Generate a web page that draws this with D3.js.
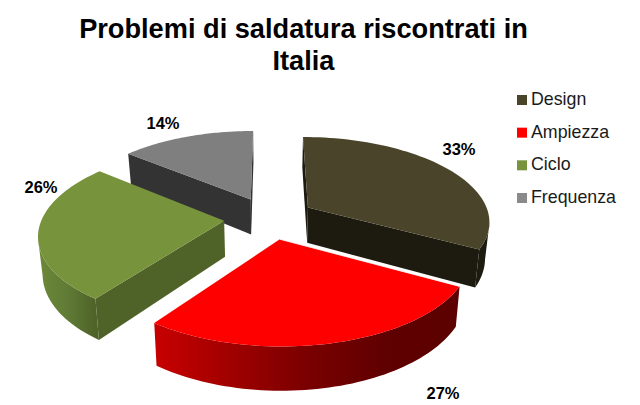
<!DOCTYPE html>
<html><head><meta charset="utf-8">
<script src="https://cdn.jsdelivr.net/npm/d3@7/dist/d3.min.js"></script>
<style>html,body{margin:0;padding:0;background:#fff}svg{display:block}text{font-family:"Liberation Sans",Arial,sans-serif}</style>
</head><body><svg id="c" width="640" height="405"></svg>
<script>
const categories = ["Design","Ampiezza","Ciclo","Frequenza"];
const values = [33,27,26,14];
const titleLines = ["Problemi di saldatura riscontrati in","Italia"];

// styling, kept apart from the data
const topColors = ["#4a452a","#ff0000","#77933c","#7f7f7f"];
const sideColors = ["#1d1b10","#800000","#4f6228","#333333"];
const wallStops = [["#1d1b10","#1d1b10"],["#c80000","#a00000","#7a0000","#600000","#5c0000"],["#6c8838","#607c36","#4f6228"],["#333333","#333333"]];
const legendColors = ["#4a452a","#ff0000","#77933c","#8a8a8a"];
const labelAnchors = [[459,155],[443,399],[41,193],[163,129]];

const svg = d3.select("#c");
const defs = svg.append("defs");
const x = d3.scaleLinear().domain([-1,1]).range([269.5-182,269.5+182]);
const y = d3.scaleLinear().domain([-1,1]).range([218+84,218-84]);
const persp = 0.15, explode = 0.25, drop = 36, taper = 0.98, minWall = 200;
const pie = d3.pie().sort(null).value(d=>d).startAngle(0).endAngle(2*Math.PI);
const arcs = pie(values);

function project(u,v,down){
  const s = 1/(1+persp*v);
  const t = down ? taper : 1;
  return [x(0)+(x(u)-x(0))*s*t, y(0)+(y(v)-y(0))*s+(down?drop*s:0)];
}
const line = d3.line();
arcs.forEach((d,i)=>{
  const mid=(d.startAngle+d.endAngle)/2;
  d.ou=explode*Math.sin(mid); d.ov=explode*Math.cos(mid); d.i=i;
  d.at=(a,r,down)=>project(d.ou+r*Math.sin(a),d.ov+r*Math.cos(a),down);
  d.angles=d3.range(0,61).map(k=>d.startAngle+(d.endAngle-d.startAngle)*k/60);
  d.depth=d.ov;
});
const shoe=p=>d3.sum(p,(q,k)=>{const n=p[(k+1)%p.length];return q[0]*n[1]-n[0]*q[1];});

[...arcs].sort((a,b)=>b.depth-a.depth).forEach(d=>{
  const g=svg.append("g");
  // outer wall: only the part facing the viewer
  const vis=[];
  d.angles.forEach(a=>{
    const nx=d.at(a+0.001,1,false)[0], cx=d.at(a,1,false)[0];
    if(nx<cx) vis.push(a);
  });
  if(vis.length>1){
    const topE=vis.map(a=>d.at(a,1,false));
    const botE=vis.map(a=>d.at(a,1,true)).reverse();
    const xs=topE.map(p=>p[0]);
    const id="w"+d.i;
    const gr=defs.append("linearGradient").attr("id",id).attr("gradientUnits","userSpaceOnUse")
      .attr("x1",d3.min(xs)).attr("x2",d3.max(xs)).attr("y1",0).attr("y2",0);
    const st=wallStops[d.i];
    st.forEach((c,k)=>gr.append("stop").attr("offset",k/(st.length-1)).attr("stop-color",c));
    g.append("path").attr("d",line([...topE,...botE])+"Z").attr("fill",`url(#${id})`);
  }
  // radial walls, skipping those that face away or are only a sliver
  [[d.startAngle,-1],[d.endAngle,1]].forEach(([a,sgn])=>{
    const q=[d.at(a,0,false),d.at(a,1,false),d.at(a,1,true),d.at(a,0,true)];
    if(shoe(q)*sgn>minWall) g.append("path").attr("d",line(q)+"Z").attr("fill",sideColors[d.i]);
  });
  // top face
  const face=[d.at(0,0,false),...d.angles.map(a=>d.at(a,1,false))];
  g.append("path").attr("d",line(face)+"Z").attr("fill",topColors[d.i]);
  // pale rim the reference shows where the red slice meets the dark one
  if(d.i===1) g.append("path").attr("d",line([d.at(d.startAngle,0,false),d.at(d.startAngle,1,false)]))
    .attr("stroke","#fff").attr("stroke-width",0.8).attr("fill","none");
});

const title=svg.append("g");
title.selectAll("text").data(titleLines).join("text")
  .attr("x",303.5).attr("y",(d,i)=>38+i*32).attr("text-anchor","middle")
  .attr("font-size",27.2).attr("font-weight","bold").attr("fill","#000").text(d=>d);

svg.append("g").selectAll("text").data(values).join("text")
  .attr("x",(d,i)=>labelAnchors[i][0]).attr("y",(d,i)=>labelAnchors[i][1])
  .attr("text-anchor","middle").attr("font-size",16.5).attr("font-weight","bold").attr("fill","#000")
  .text(d=>d+"%");

const ly=d3.scalePoint().domain(categories).range([105,203]);
const lg=svg.append("g").selectAll("g").data(categories).join("g");
lg.append("rect").attr("x",517).attr("y",d=>ly(d)-10).attr("width",10).attr("height",10)
  .attr("fill",(d,i)=>legendColors[i]);
lg.append("text").attr("x",531).attr("y",d=>ly(d)).attr("font-size",17.8).attr("fill","#1a1a1a").text(d=>d);
</script></body></html>
